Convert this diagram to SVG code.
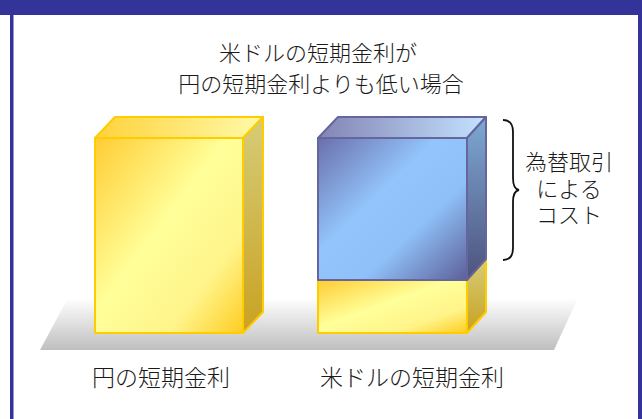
<svg xmlns="http://www.w3.org/2000/svg" width="642" height="419" viewBox="0 0 642 419">
<defs>
<style>
.t{font-family:"Liberation Serif","Noto Sans CJK JP",serif;fill:#1a1a1a;font-weight:300}
.yel{stroke:#ffcc00;stroke-width:2;stroke-linejoin:round}
.blu{stroke:#66669e;stroke-width:2;stroke-linejoin:round}
</style>
<linearGradient id="floor" x1="0" y1="0" x2="0" y2="1">
<stop offset="0" stop-color="#ffffff"/><stop offset="1" stop-color="#bfbfbf"/>
</linearGradient>
<linearGradient id="yFront" x1="0" y1="0" x2="1" y2="1">
<stop offset="0" stop-color="#ffcc33"/><stop offset="0.45" stop-color="#ffff99"/><stop offset="0.75" stop-color="#fff48a"/><stop offset="1" stop-color="#ffcc22"/>
</linearGradient>
<linearGradient id="yTop" x1="0" y1="0" x2="1" y2="0">
<stop offset="0" stop-color="#ffd23c"/><stop offset="1" stop-color="#fffaa8"/>
</linearGradient>
<linearGradient id="ySide" x1="0" y1="0" x2="0" y2="1">
<stop offset="0" stop-color="#d6cc78"/><stop offset="1" stop-color="#c9a222"/>
</linearGradient>
<linearGradient id="bFront" x1="0" y1="0" x2="1" y2="1">
<stop offset="0" stop-color="#6a6fac"/><stop offset="0.4" stop-color="#93c4fb"/><stop offset="0.65" stop-color="#8fc0f8"/><stop offset="1" stop-color="#5c5f98"/>
</linearGradient>
<linearGradient id="bTop" x1="0" y1="0" x2="1" y2="0">
<stop offset="0" stop-color="#8284b4"/><stop offset="1" stop-color="#c4e2ff"/>
</linearGradient>
<linearGradient id="bSide" x1="0" y1="0" x2="0" y2="1">
<stop offset="0" stop-color="#7ea8d4"/><stop offset="1" stop-color="#4e527e"/>
</linearGradient>
</defs>
<rect x="0" y="0" width="642" height="419" fill="#ffffff"/>
<rect x="0" y="0" width="642" height="15" fill="#333399"/>
<rect x="10" y="0" width="3.5" height="419" fill="#333399"/>
<rect x="638" y="0" width="4" height="419" fill="#333399"/>
<g id="floor"><polygon points="68,298 578,298 554,350 40,350" fill="url(#floor)"/></g>
<g id="title">
<text class="t" x="318" y="61" font-size="22" text-anchor="middle">米ドルの短期金利が</text>
<text class="t" x="321" y="92" font-size="22" text-anchor="middle">円の短期金利よりも低い場合</text>
</g>
<g id="box-yen">
<polygon class="yel" points="95,138 115,117 263,117 243,138" fill="url(#yTop)"/>
<polygon class="yel" points="243,138 263,117 263,312 243,333" fill="url(#ySide)"/>
<rect class="yel" x="95" y="138" width="148" height="195" fill="url(#yFront)"/>
</g>
<g id="box-usd">
<polygon class="yel" points="467,280 486,259 486,312 467,333" fill="url(#ySide)"/>
<rect class="yel" x="318" y="280" width="149" height="53" fill="url(#yFront)"/>
<polygon class="blu" points="318,138 338,117 486,117 467,138" fill="url(#bTop)"/>
<polygon class="blu" points="467,138 486,117 486,259 467,280" fill="url(#bSide)"/>
<rect class="blu" x="318" y="138" width="149" height="142" fill="url(#bFront)"/>
</g>
<g id="connectors">
<path d="M503,120 Q513,120 513,132 L513,178 Q513,189 519,190 Q513,191 513,202 L513,248 Q513,260 503,260" fill="none" stroke="#111" stroke-width="1.8"/>
</g>
<g id="cost-label">
<text class="t" x="569" y="170" font-size="22" text-anchor="middle">為替取引</text>
<text class="t" x="569" y="197" font-size="22" text-anchor="middle">による</text>
<text class="t" x="569" y="223" font-size="22" text-anchor="middle">コスト</text>
</g>
<g id="labels">
<text class="t" x="161" y="386" font-size="23" text-anchor="middle">円の短期金利</text>
<text class="t" x="412" y="386" font-size="23" text-anchor="middle">米ドルの短期金利</text>
</g>
</svg>
